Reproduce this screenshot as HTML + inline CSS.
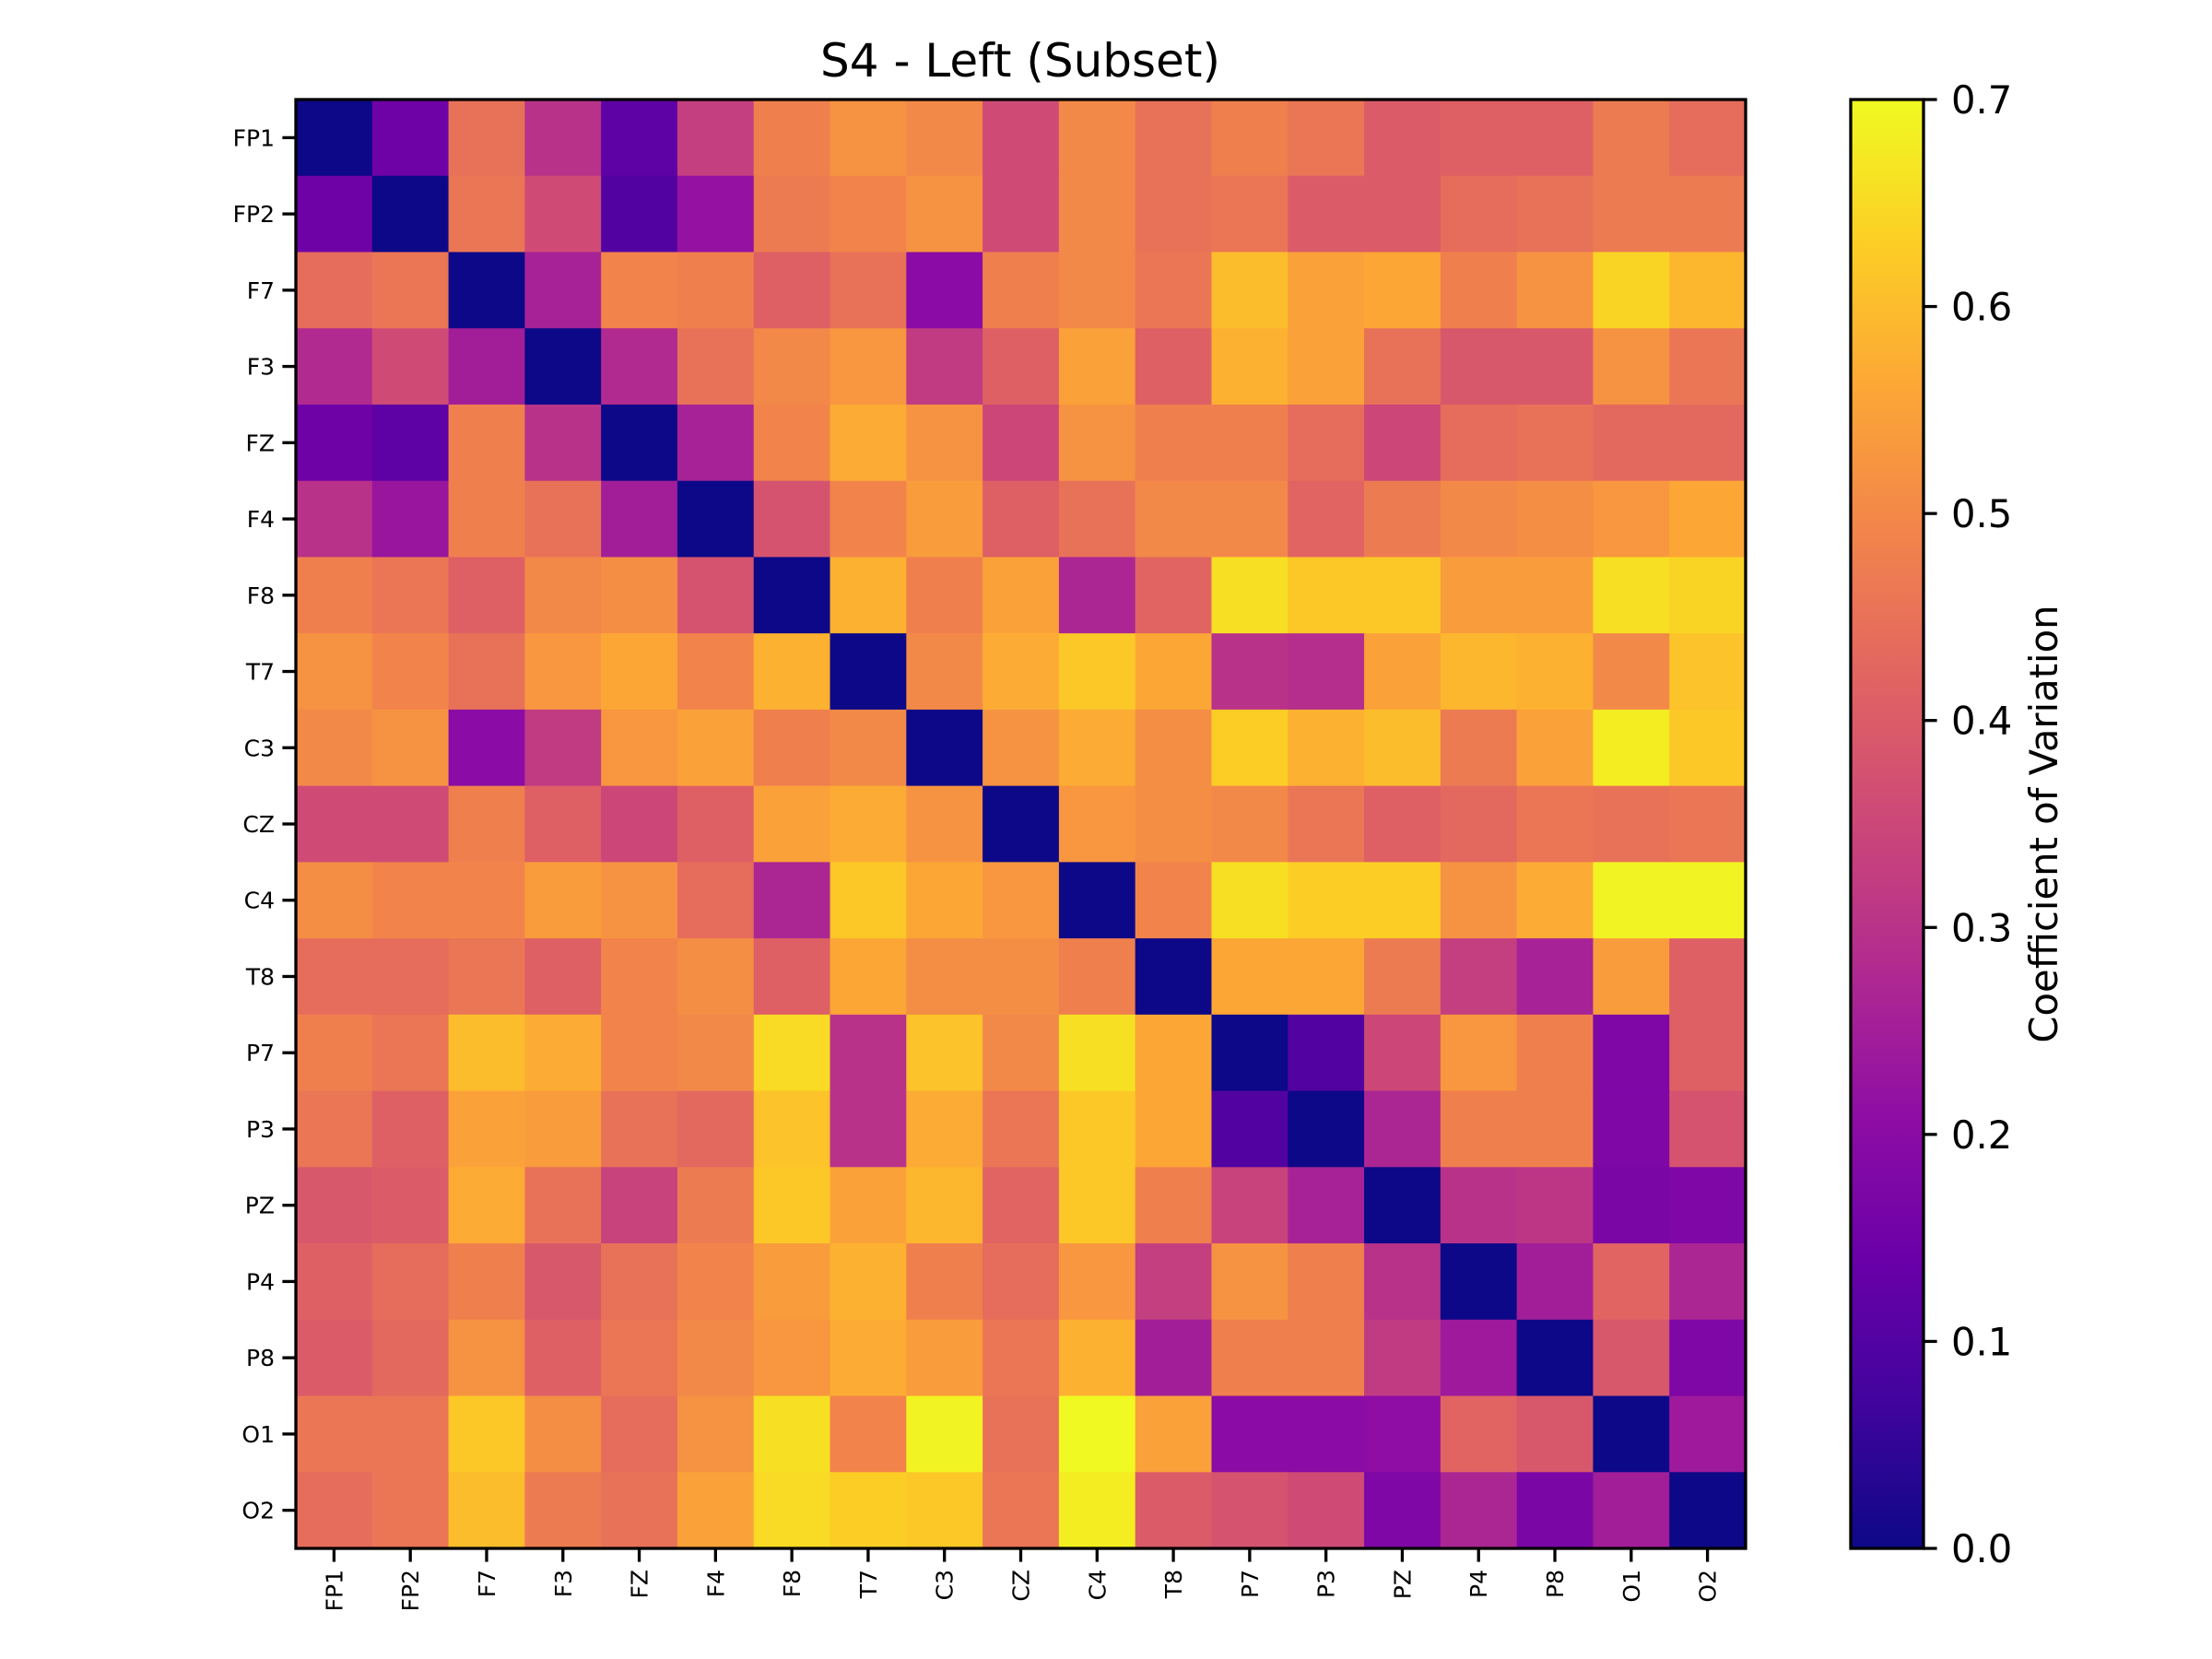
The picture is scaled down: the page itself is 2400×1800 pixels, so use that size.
<!DOCTYPE html>
<html><head><meta charset="utf-8"><style>
html,body{margin:0;padding:0;background:#fff;}
svg{display:block;font-family:"DejaVu Sans","Liberation Sans",sans-serif;}
</style></head><body>
<svg id="chart" width="2400" height="1800" viewBox="0 0 2400 1800" xmlns="http://www.w3.org/2000/svg">
<defs><linearGradient id="cbgrad" x1="0" y1="1" x2="0" y2="0"></linearGradient></defs>
<text x="1107" y="83" font-size="50" text-anchor="middle">S4 - Left (Subset)</text>
<g id="cells"></g>
<g id="axes"></g>
</svg>
<script>
const labels = ["FP1","FP2","F7","F3","FZ","F4","F8","T7","C3","CZ","C4","T8","P7","P3","PZ","P4","P8","O1","O2"];
const row0 = [0,0.15,0.45,0.3,0.12,0.33,0.48,0.52,0.5,0.36,0.5,0.45,0.48,0.46,0.40,0.41,0.41,0.47,0.44];
const row1 = [0.15,0,0.46,0.36,0.1,0.22,0.47,0.49,0.52,0.36,0.5,0.45,0.46,0.4,0.4,0.44,0.45,0.47,0.47];
const row2 = [0.44,0.46,0,0.26,0.49,0.48,0.41,0.45,0.2,0.48,0.5,0.46,0.6,0.55,0.56,0.48,0.52,0.64,0.59];
const row3 = [0.28,0.36,0.25,0,0.28,0.45,0.5,0.53,0.32,0.41,0.55,0.41,0.58,0.55,0.45,0.39,0.39,0.52,0.46];
const row4 = [0.15,0.12,0.48,0.3,0,0.26,0.49,0.57,0.52,0.35,0.52,0.48,0.48,0.44,0.35,0.44,0.45,0.43,0.43];
const row5 = [0.3,0.23,0.48,0.45,0.25,0,0.38,0.49,0.54,0.41,0.45,0.5,0.5,0.42,0.47,0.5,0.51,0.53,0.56];
const row6 = [0.48,0.46,0.41,0.5,0.51,0.38,0,0.58,0.48,0.55,0.27,0.42,0.66,0.62,0.62,0.54,0.54,0.66,0.64];
const row7 = [0.52,0.49,0.45,0.53,0.56,0.49,0.58,0,0.5,0.57,0.62,0.56,0.3,0.29,0.55,0.59,0.58,0.5,0.61];
const row8 = [0.5,0.52,0.2,0.32,0.53,0.55,0.48,0.5,0,0.52,0.57,0.51,0.63,0.58,0.6,0.47,0.55,0.68,0.62];
const row9 = [0.36,0.36,0.48,0.41,0.35,0.41,0.55,0.57,0.52,0,0.53,0.51,0.5,0.46,0.41,0.43,0.46,0.45,0.46];
const row10 = [0.51,0.49,0.49,0.54,0.52,0.44,0.27,0.62,0.56,0.53,0,0.49,0.66,0.63,0.63,0.52,0.57,0.69,0.69];
const row11 = [0.44,0.44,0.46,0.41,0.49,0.51,0.41,0.56,0.51,0.51,0.48,0,0.56,0.56,0.47,0.33,0.26,0.54,0.41];
const row12 = [0.48,0.46,0.6,0.57,0.49,0.5,0.65,0.3,0.61,0.5,0.66,0.56,0,0.1,0.35,0.53,0.48,0.18,0.41];
const row13 = [0.46,0.41,0.55,0.54,0.45,0.43,0.61,0.3,0.57,0.46,0.62,0.56,0.1,0,0.27,0.48,0.48,0.18,0.38];
const row14 = [0.39,0.4,0.57,0.45,0.34,0.47,0.62,0.55,0.59,0.42,0.62,0.48,0.34,0.26,0,0.3,0.31,0.17,0.18];
const row15 = [0.41,0.44,0.48,0.39,0.45,0.49,0.54,0.58,0.48,0.44,0.53,0.33,0.52,0.48,0.3,0,0.25,0.42,0.27];
const row16 = [0.4,0.43,0.52,0.41,0.46,0.5,0.53,0.57,0.54,0.46,0.58,0.25,0.48,0.48,0.32,0.24,0,0.39,0.18];
const row17 = [0.46,0.46,0.62,0.51,0.44,0.52,0.66,0.49,0.69,0.45,0.7,0.55,0.2,0.2,0.21,0.42,0.39,0,0.24];
const row18 = [0.44,0.46,0.6,0.47,0.45,0.55,0.65,0.63,0.62,0.46,0.68,0.4,0.38,0.36,0.18,0.27,0.17,0.25,0];
const matrix = [row0,row1,row2,row3,row4,row5,row6,row7,row8,row9,row10,row11,row12,row13,row14,row15,row16,row17,row18];
const cbTicks = [0,0.1,0.2,0.3,0.4,0.5,0.6,0.7];
const vmin = 0, vmax = 0.7;

const NS = "http://www.w3.org/2000/svg";
const L = 321, T = 108, W = 1573, H = 1572;
const cw = W / labels.length, ch = H / labels.length;
const CBL = 2008, CBR = 2087, CBT = 108, CBB = 1680;
const stops = ["#0d0887","#41049d","#6a00a8","#8f0da4","#b12a90","#cc4778","#e16462","#f2844b","#fca636","#fcce25","#f0f921"];
function hex(c){return [1,3,5].map(i=>parseInt(c.substr(i,2),16));}
function plasma(t){
  t = Math.max(0, Math.min(1, t));
  const p = t * 10, i = Math.min(9, Math.floor(p)), f = p - i;
  const a = hex(stops[i]), b = hex(stops[i+1]);
  return "rgb(" + a.map((v,k)=>Math.round(v + (b[k]-v)*f)).join(",") + ")";
}
function xPos(i){return L + i*cw;}
function yPos(i){return T + i*ch;}
function cbY(v){return CBB - (v - vmin)/(vmax - vmin)*(CBB - CBT);}
function mk(tag, attrs, parent){
  const e = document.createElementNS(NS, tag);
  for (const k in attrs) e.setAttribute(k, attrs[k]);
  parent.appendChild(e); return e;
}
const cells = document.getElementById("cells");
const axes = document.getElementById("axes");
matrix.forEach((row, r) => row.forEach((v, c) => {
  const rc = mk("rect", {x: xPos(c), y: yPos(r), width: cw + 0.6, height: ch + 0.6, fill: plasma((v - vmin)/(vmax - vmin))}, cells);
  
  
}));
const frame = mk("rect", {x: L, y: T, width: W, height: H, fill: "none", stroke: "#000", "stroke-width": 3.3}, axes);


labels.forEach((lab, i) => {
  const cy = yPos(i) + ch/2;
  mk("line", {x1: L, x2: L - 14.6, y1: cy, y2: cy, stroke: "#000", "stroke-width": 3.3}, axes);
  const ty = mk("text", {x: L - 23, y: cy + 9, "font-size": 25, "text-anchor": "end"}, axes);
  ty.textContent = lab;
  
  
  const cx = xPos(i) + cw/2;
  mk("line", {x1: cx, x2: cx, y1: T + H, y2: T + H + 14.6, stroke: "#000", "stroke-width": 3.3}, axes);
  const tx = mk("text", {x: 0, y: 0, "font-size": 25, "text-anchor": "end", transform: "translate(" + (cx + 9) + "," + (T + H + 23) + ") rotate(-90)"}, axes);
  tx.textContent = lab;
  
  
});
// colorbar
const grad = document.getElementById("cbgrad");
for (let k = 0; k <= 20; k++) mk("stop", {offset: (k/20), "stop-color": plasma(k/20)}, grad);
const cb = mk("rect", {x: CBL, y: CBT, width: CBR - CBL, height: CBB - CBT, fill: "url(#cbgrad)", stroke: "#000", "stroke-width": 3.3}, axes);


cbTicks.forEach(v => {
  const y = cbY(v);
  mk("line", {x1: CBR, x2: CBR + 14.6, y1: y, y2: y, stroke: "#000", "stroke-width": 3.3}, axes);
  const t = mk("text", {x: CBR + 30, y: y + 15, "font-size": 41.7}, axes);
  t.textContent = v.toFixed(1);
  
  
});
const cl = mk("text", {x: 0, y: 0, "font-size": 41.7, "text-anchor": "middle", transform: "translate(2232," + ((CBT + CBB)/2) + ") rotate(-90)"}, axes);
cl.textContent = "Coefficient of Variation";


</script>
</body></html>
